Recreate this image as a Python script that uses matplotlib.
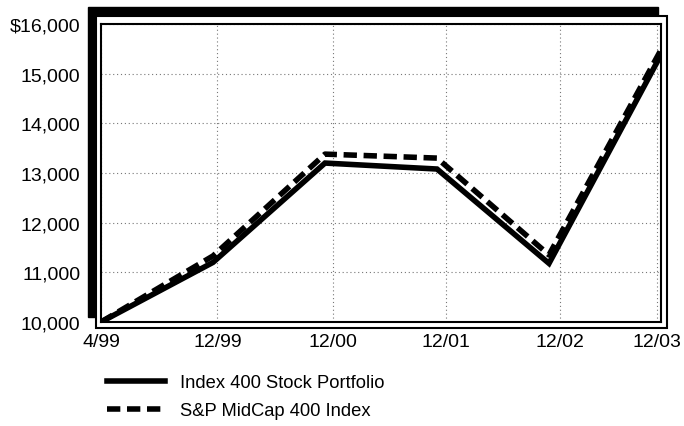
import matplotlib
matplotlib.use("Agg")
import matplotlib.pyplot as plt
from matplotlib.patches import Rectangle
from matplotlib.lines import Line2D

# ---- data ----
tick_labels = ["4/99", "12/99", "12/00", "12/01", "12/02", "12/03"]
x_pos = [0, 1, 2, 3, 4, 5]
tick_pos = [0, 1.04, 2.07, 3.08, 4.1, 4.96]
portfolio = [10000, 11200, 13200, 13080, 11180, 15380]
midcap = [10000, 11330, 13380, 13300, 11350, 15480]
y_ticks = [10000, 11000, 12000, 13000, 14000, 15000, 16000]
y_labels = ["10,000", "11,000", "12,000", "13,000", "14,000", "15,000", "$16,000"]

W, H = 684, 427
fig = plt.figure(figsize=(W / 100, H / 100), dpi=100)

def px_box(x0, y0, x1, y1):
    # pixel box (top-left origin) -> figure fraction rect
    return (x0 / W, 1 - y1 / H, (x1 - x0) / W, (y1 - y0) / H)

# shadow frame: black slab behind, white panel in front
bx, by, bw, bh = px_box(88, 8, 658, 318)
fig.patches.append(Rectangle((bx, by), bw, bh, transform=fig.transFigure,
                             facecolor="black", edgecolor="black", zorder=0))
wx, wy, ww, wh = px_box(96, 17, 667, 329)
fig.patches.append(Rectangle((wx, wy), ww, wh, transform=fig.transFigure,
                             facecolor="white", edgecolor="black", lw=1.5, zorder=1))

ax = fig.add_axes(px_box(101, 25, 661, 323))
ax.set_zorder(2)
ax.patch.set_alpha(0)

dash = (0, (2.4, 1.2))
ax.plot(x_pos, midcap, color="black", lw=4.0, ls=dash,
        solid_capstyle="butt", dash_capstyle="butt", zorder=3)
ax.plot(x_pos, portfolio, color="black", lw=4.0, solid_joinstyle="miter", zorder=4)

ax.set_xlim(0, 5)
ax.set_ylim(10000, 16000)
ax.set_xticks(tick_pos)
ax.set_xticklabels(tick_labels, fontsize=14, family="Liberation Sans")
ax.set_yticks(y_ticks)
ax.set_yticklabels(y_labels, fontsize=14, family="Liberation Sans")
ax.tick_params(axis="y", length=0, pad=15)
ax.tick_params(axis="x", length=0, pad=8)

ax.grid(True, color="#777777", ls=(0, (1, 2.5)), lw=0.8)
ax.set_axisbelow(True)
for s in ax.spines.values():
    s.set_color("black")
    s.set_linewidth(1.5)

handles = [Line2D([], [], color="black", lw=4.0),
           Line2D([], [], color="black", lw=4.0, ls=dash)]
fig.legend(handles, ["Index 400 Stock Portfolio", "S&P MidCap 400 Index"],
           loc="upper left", bbox_to_anchor=(90 / W, 1 - 359 / H),
           frameon=False, handlelength=3.2, handletextpad=0.8,
           labelspacing=0.6, prop={"family": "Liberation Sans", "size": 13.2})

fig.savefig("out.png", dpi=100)
